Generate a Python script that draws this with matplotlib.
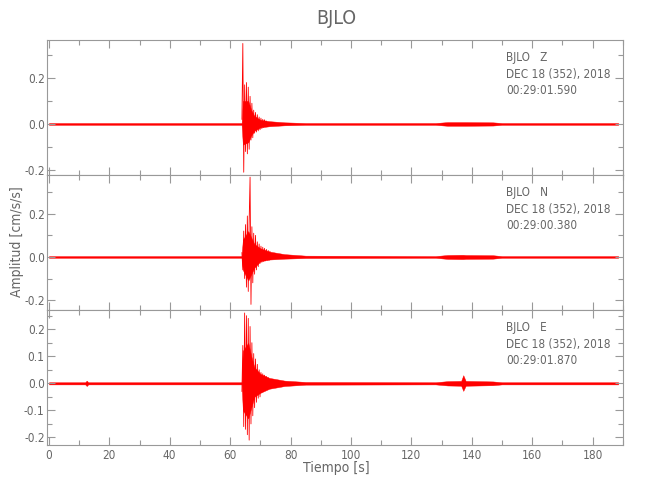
import numpy as np
import matplotlib.pyplot as plt
from matplotlib.ticker import MultipleLocator

plt.rcParams['font.family'] = ['DejaVu Sans']
plt.rcParams['font.stretch'] = 'condensed'

# Station info
station = 'BJLO'
components = ['Z', 'N', 'E']
date_str = 'DEC 18 (352), 2018'
start_times = ['00:29:01.590', '00:29:00.380', '00:29:01.870']

# Background envelope of each trace (time in s, amplitude in cm/s/s)
env_t = [0, 12, 12.5, 13, 63.8, 64.2, 66, 67, 68, 70, 73, 78, 85,
         128, 132, 136.5, 137.2, 138, 147, 150, 188.5]
env_up_z = [0.004, 0.004, 0.004, 0.004, 0.004, 0.10, 0.10, 0.06, 0.035, 0.018, 0.012,
            0.007, 0.004, 0.004, 0.008, 0.008, 0.008, 0.008, 0.007, 0.004, 0.004]
env_lo_z = [-0.004, -0.004, -0.004, -0.004, -0.004, -0.09, -0.08, -0.05, -0.03, -0.015, -0.01,
            -0.006, -0.004, -0.004, -0.008, -0.008, -0.008, -0.008, -0.007, -0.004, -0.004]
env_up_n = [0.004, 0.004, 0.004, 0.004, 0.004, 0.08, 0.12, 0.09, 0.06, 0.04, 0.025,
            0.013, 0.006, 0.004, 0.009, 0.010, 0.010, 0.009, 0.008, 0.004, 0.004]
env_lo_n = [-0.004, -0.004, -0.004, -0.004, -0.004, -0.06, -0.11, -0.08, -0.05, -0.02, -0.012,
            -0.008, -0.005, -0.004, -0.009, -0.010, -0.010, -0.009, -0.008, -0.004, -0.004]
env_up_e = [0.004, 0.004, 0.010, 0.004, 0.004, 0.12, 0.15, 0.10, 0.06, 0.035, 0.02,
            0.010, 0.005, 0.004, 0.008, 0.009, 0.03, 0.009, 0.007, 0.004, 0.004]
env_lo_e = [-0.004, -0.004, -0.010, -0.004, -0.004, -0.10, -0.13, -0.09, -0.05, -0.035, -0.02,
            -0.010, -0.005, -0.004, -0.008, -0.009, -0.028, -0.009, -0.007, -0.004, -0.004]

# Peak readings through the main arrival, one every 0.3 s starting at 63.9 s
burst_t0 = 63.9
burst_dt = 0.3
peaks_z = [0.02, 0.35, -0.21, 0.17, -0.12, 0.18, -0.13, 0.16, -0.11, 0.12, -0.07, 0.09,
           -0.06, 0.06, -0.04, 0.05, -0.035, 0.04, -0.03, 0.03, -0.025, 0.025, -0.02,
           0.02, -0.015, 0.018, -0.012, 0.012]
peaks_n = [0.02, -0.06, 0.12, -0.10, 0.15, -0.14, 0.19, -0.16, 0.17, 0.37, -0.22, 0.14,
           -0.12, 0.11, -0.08, 0.10, -0.06, 0.07, -0.045, 0.06, -0.03, 0.05, -0.025,
           0.045, -0.02, 0.04, -0.018, 0.035, -0.015, 0.03, -0.015, 0.025]
peaks_e = [-0.03, 0.14, -0.16, 0.26, -0.17, 0.25, -0.19, 0.24, -0.21, 0.21, -0.15, 0.15,
           -0.12, 0.11, -0.09, 0.09, -0.07, 0.07, -0.055, 0.05, -0.05, 0.04, -0.035,
           0.035, -0.03, 0.03, -0.025, 0.025, -0.02, 0.02]

ylims = [(-0.222, 0.365), (-0.246, 0.38), (-0.228, 0.271)]
ymajor = [0.2, 0.2, 0.1]
yminor = [0.1, 0.1, 0.05]

envs = [(env_up_z, env_lo_z), (env_up_n, env_lo_n), (env_up_e, env_lo_e)]
peaks = [peaks_z, peaks_n, peaks_e]

frame_col = '#999999'
text_col = '#666666'

fig = plt.figure(figsize=(6.5, 5), dpi=100)
left, right = 0.073, 0.958
top, bottom = 0.92, 0.11
h = (top - bottom) / 3

for k in range(3):
    ax = fig.add_axes([left, top - (k + 1) * h, right - left, h])
    up, lo = envs[k]
    ax.fill_between(env_t, lo, up, color='red', lw=0.3)
    pk = np.array(peaks[k])
    tt = burst_t0 + burst_dt * np.arange(len(pk))
    ax.plot(tt, pk, color='red', lw=0.6)

    ax.set_xlim(-0.5, 190)
    ax.set_ylim(*ylims[k])
    ax.xaxis.set_major_locator(MultipleLocator(20))
    ax.xaxis.set_minor_locator(MultipleLocator(10))
    ax.yaxis.set_major_locator(MultipleLocator(ymajor[k]))
    ax.yaxis.set_minor_locator(MultipleLocator(yminor[k]))
    ax.tick_params(which='both', direction='in', top=True, right=True,
                   color=frame_col, labelcolor=text_col, labelsize=8.5)
    ax.tick_params(which='major', length=6, width=0.8)
    ax.tick_params(which='minor', length=3.5, width=0.8)
    ax.tick_params(axis='y', pad=2)
    ax.tick_params(axis='x', pad=3)
    ax.yaxis.set_major_formatter(plt.FuncFormatter(lambda v, p: '%.1f' % v))
    for s in ax.spines.values():
        s.set_color(frame_col)
        s.set_linewidth(0.8)
    if k < 2:
        ax.tick_params(axis='x', labelbottom=False)

    ax.text(0.798, 0.874, '%s   %s' % (station, components[k]), transform=ax.transAxes,
            va='center', ha='left', fontsize=8.5, color=text_col)
    ax.text(0.798, 0.748, date_str, transform=ax.transAxes,
            va='center', ha='left', fontsize=8.5, color=text_col)
    ax.text(0.798, 0.628, start_times[k], transform=ax.transAxes,
            va='center', ha='left', fontsize=8.5, color=text_col)

fig.text(0.517, 0.964, station, ha='center', va='center', fontsize=14, color=text_col)
fig.text(0.518, 0.064, 'Tiempo [s]', ha='center', va='center', fontsize=10, color=text_col)
fig.text(0.026, 0.516, 'Amplitud [cm/s/s]', ha='center', va='center', rotation=90,
         fontsize=10, color=text_col)

fig.savefig('out.png', dpi=100)
